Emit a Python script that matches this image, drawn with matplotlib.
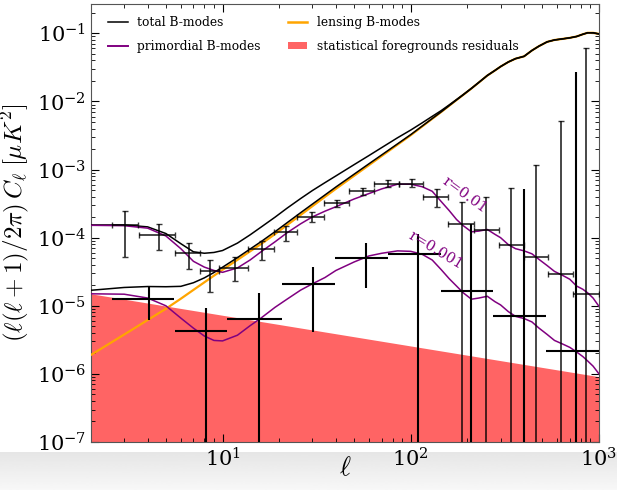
import numpy as np
import matplotlib
matplotlib.use("Agg")
import matplotlib.pyplot as plt
from matplotlib.ticker import LogLocator, FuncFormatter, NullFormatter, FixedLocator
from matplotlib.patches import Patch
from matplotlib.lines import Line2D

plt.rcParams['font.family'] = ['DejaVu Serif']
plt.rcParams['mathtext.fontset'] = 'cm'

# ---------------- data ----------------
ell = [2, 3, 4, 5, 6, 7, 8, 9, 10, 12, 14, 16, 19, 22, 26, 30, 35, 40, 50, 60, 70, 85,
       100, 115, 130, 145, 160, 175, 190, 210, 230, 255, 280, 300, 330, 360, 400, 440,
       480, 530, 580, 640, 700, 760, 820, 870, 930, 1000]

lensing = [1.9e-6, 3.78e-6, 6.18e-6, 9.05e-6, 1.27e-5, 1.71e-5, 2.21e-5, 2.77e-5, 3.38e-5,
           4.73e-5, 6.3e-5, 8.07e-5, 1.13e-4, 1.53e-4, 2.16e-4, 2.9e-4, 3.98e-4, 5.22e-4,
           8.12e-4, 1.165e-3, 1.58e-3, 2.32e-3, 3.2e-3, 4.3e-3, 5.57e-3, 7.0e-3, 8.66e-3,
           1.05e-2, 1.25e-2, 1.55e-2, 1.9e-2, 2.4e-2, 2.85e-2, 3.25e-2, 3.8e-2, 4.25e-2,
           4.6e-2, 5.6e-2, 6.5e-2, 7.5e-2, 8.0e-2, 8.3e-2, 8.6e-2, 9.0e-2, 9.7e-2, 1.02e-1,
           1.02e-1, 9.8e-2]

prim_r01 = [1.52e-4, 1.50e-4, 1.38e-4, 1.06e-4, 6.9e-5, 4.5e-5, 3.7e-5, 3.3e-5, 3.1e-5,
            3.6e-5, 4.7e-5, 6.2e-5, 8.7e-5, 1.18e-4, 1.6e-4, 2.02e-4, 2.45e-4, 2.85e-4,
            3.7e-4, 4.45e-4, 5.2e-4, 6.1e-4, 6.1e-4, 5.6e-4, 4.8e-4, 3.4e-4, 2.5e-4,
            1.85e-4, 1.5e-4, 1.22e-4, 1.25e-4, 1.32e-4, 1.12e-4, 1.0e-4, 7.9e-5, 6.9e-5,
            6.4e-5, 5.8e-5, 4.8e-5, 3.9e-5, 3.2e-5, 2.8e-5, 2.45e-5, 1.95e-5, 1.75e-5,
            1.55e-5, 1.3e-5, 9.8e-6]

prim_r001 = [1.5e-5, 1.48e-5, 1.3e-5, 1.0e-5, 6.6e-6, 4.7e-6, 3.6e-6, 3.1e-6, 3.05e-6,
             3.7e-6, 5.1e-6, 6.6e-6, 9.5e-6, 1.25e-5, 1.7e-5, 2.1e-5, 2.6e-5, 3.3e-5,
             4.4e-5, 5.4e-5, 5.9e-5, 6.4e-5, 6.3e-5, 5.7e-5, 4.7e-5, 3.4e-5, 2.5e-5,
             1.95e-5, 1.55e-5, 1.25e-5, 1.3e-5, 1.38e-5, 1.15e-5, 1.03e-5, 8.2e-6, 7.0e-6,
             6.5e-6, 5.8e-6, 4.7e-6, 3.8e-6, 3.1e-6, 2.75e-6, 2.45e-6, 2.1e-6, 1.8e-6,
             1.55e-6, 1.3e-6, 1.0e-6]

fg_ell = [2, 1000]
fg_res = [1.5e-5, 9.1e-7]

# binned points, r = 0.01
b1_ell = [3.03, 4.62, 6.6, 8.6, 11.6, 16.2, 21.8, 29.9, 40.5, 55.4, 75.3, 102, 137, 186,
          252, 342, 464, 630, 853]
b1_val = [1.53e-4, 1.10e-4, 5.86e-5, 3.24e-5, 3.64e-5, 6.79e-5, 1.20e-4, 2.0e-4, 3.21e-4,
          4.83e-4, 6.19e-4, 6.19e-4, 4.02e-4, 1.59e-4, 1.31e-4, 7.85e-5, 5.22e-5, 2.93e-5,
          1.5e-5]
b1_lo = [5.17e-5, 6.56e-5, 3.44e-5, 1.57e-5, 2.31e-5, 4.67e-5, 9.0e-5, 1.70e-4, 2.8e-4,
         4.3e-4, 5.53e-4, 5.53e-4, 2.8e-4, 1e-9, 1e-9, 1e-9, 1e-9, 1e-9, 1e-9]
b1_hi = [2.47e-4, 1.59e-4, 8.32e-5, 4.67e-5, 5.17e-5, 9.0e-5, 1.48e-4, 2.39e-4, 3.63e-4,
         5.35e-4, 6.92e-4, 7.26e-4, 5.22e-4, 3.32e-4, 3.94e-4, 5.35e-4, 1.15e-3, 5.15e-3,
         6.1e-2]
b1_lmin = [2.59, 3.58, 5.6, 7.6, 9.6, 13.7, 18.8, 24.8, 34.6, 47, 63.5, 87, 116, 157, 216,
           293, 398, 538, 730]
b1_lmax = [3.55, 5.6, 7.6, 9.6, 13.7, 18.8, 24.8, 34.6, 47, 63.5, 87, 116, 157, 216, 293,
           398, 538, 730, 1000]

# binned points, r = 0.001
b2_ell = [4.09, 8.13, 15.7, 30.4, 57.8, 109, 210, 398, 755]
b2_val = [1.25e-5, 4.21e-6, 6.49e-6, 2.06e-5, 5.0e-5, 5.73e-5, 1.64e-5, 7.02e-6, 2.19e-6]
b2_lo = [6.28e-6, 1e-9, 1e-9, 4.07e-6, 1.8e-5, 1e-9, 1e-9, 1e-9, 1e-9]
b2_hi = [1.86e-5, 9.34e-6, 1.52e-5, 3.77e-5, 8.24e-5, 1.13e-4, 1.59e-4, 5.22e-4, 2.7e-2]
b2_lmin = [2.59, 5.57, 10.6, 20.7, 39.6, 75.9, 144, 272, 525]
b2_lmax = [5.55, 10.6, 20.7, 39.6, 75.9, 144, 272, 525, 1000]

x_ticks = [10, 100, 1000]
y_ticks = [1e-7, 1e-6, 1e-5, 1e-4, 1e-3, 1e-2, 1e-1]

labels = ['total B-modes', 'primordial B-modes', 'lensing B-modes',
          'statistical foregrounds residuals']

# ---------------- figure ----------------
W, H = 617, 490
fig = plt.figure(figsize=(W / 100, H / 100), dpi=100)

# light screenshot band at the bottom
bg = fig.add_axes([0, 0, 1, 38 / H], zorder=-5)
grad = np.linspace(0.90, 0.97, 64).reshape(-1, 1)
bg.imshow(grad, aspect='auto', cmap='gray', vmin=0, vmax=1, extent=[0, 1, 0, 1])
bg.set_axis_off()

ax = fig.add_axes([91 / W, (H - 442) / H, 508 / W, 438 / H])
ax.set_xscale('log')
ax.set_yscale('log')

red = '#ff6464'
purple = '#800080'
orange = '#ffa500'

ax.fill_between(fg_ell, fg_res, 1e-9, color=red, lw=0, zorder=1)

L = np.array(lensing)
P1 = np.array(prim_r01)
P2 = np.array(prim_r001)
ax.plot(ell, L + P1, color='k', lw=1.1, zorder=3)
ax.plot(ell, L + P2, color='k', lw=1.1, zorder=3)
ax.plot(ell, L, color=orange, lw=1.6, zorder=2.9)
ax.plot(ell, P1, color=purple, lw=1.1, zorder=3)
ax.plot(ell, P2, color=purple, lw=1.1, zorder=3)

def errs(c, lo, hi):
    c = np.array(c); lo = np.array(lo); hi = np.array(hi)
    return [c - lo, hi - c]

ax.errorbar(b1_ell, b1_val, xerr=errs(b1_ell, b1_lmin, b1_lmax),
            yerr=errs(b1_val, b1_lo, b1_hi), fmt='none', ecolor='k',
            elinewidth=1.3, capsize=2.5, capthick=1.0, alpha=0.78, zorder=4)
ax.errorbar(b2_ell, b2_val, xerr=errs(b2_ell, b2_lmin, b2_lmax),
            yerr=errs(b2_val, b2_lo, b2_hi), fmt='none', ecolor='k',
            elinewidth=1.5, capsize=0, zorder=4)

ax.text(193, 4.3e-4, 'r=0.01', color=purple, fontsize=10.5, rotation=-36,
        ha='center', va='center', zorder=5)
ax.text(136, 6.5e-5, 'r=0.001', color=purple, fontsize=10.5, rotation=-31,
        ha='center', va='center', zorder=5)

ax.set_xlim(2, 1000)
ax.set_ylim(1e-7, 0.27)

def fmt(v, pos):
    e = int(round(np.log10(v)))
    return r'$\mathregular{10^{%d}}$' % e

ax.xaxis.set_major_locator(FixedLocator(x_ticks))
ax.yaxis.set_major_locator(FixedLocator(y_ticks))
ax.xaxis.set_minor_locator(LogLocator(base=10, subs=np.arange(2, 10), numticks=20))
ax.yaxis.set_minor_locator(LogLocator(base=10, subs=np.arange(2, 10), numticks=20))
ax.xaxis.set_major_formatter(FuncFormatter(fmt))
ax.yaxis.set_major_formatter(FuncFormatter(fmt))
ax.xaxis.set_minor_formatter(NullFormatter())
ax.yaxis.set_minor_formatter(NullFormatter())
ax.tick_params(which='both', direction='in', top=True, right=True, labelsize=15)
ax.tick_params(which='major', length=6, width=0.8)
ax.tick_params(which='minor', length=3, width=0.6)
for s in ax.spines.values():
    s.set_color('#555555')

ax.set_xlabel(r'$\ell$', fontsize=19)
ax.xaxis.set_label_coords(0.5, -0.03)
ax.set_ylabel(r'$(\ell(\ell+1)/2\pi)\,C_\ell\;[\mu K^2]$', fontsize=18, labelpad=4)

handles = [Line2D([], [], color='k', lw=1.1),
           Line2D([], [], color=purple, lw=1.4),
           Line2D([], [], color=orange, lw=1.8),
           Patch(facecolor=red, edgecolor='none')]
ax.legend(handles, labels, loc='upper left', ncol=2, frameon=False, fontsize=8.8,
          handlelength=1.6, labelspacing=0.85, columnspacing=2.2,
          bbox_to_anchor=(0.012, 0.997), handleheight=0.5)

fig.savefig('out.png', dpi=100)
